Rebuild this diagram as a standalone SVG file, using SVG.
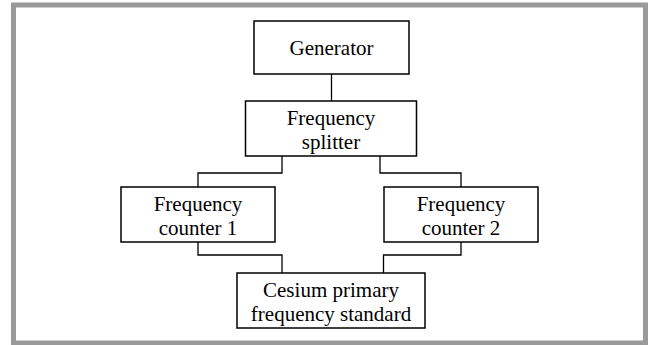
<svg xmlns="http://www.w3.org/2000/svg" width="648" height="345" viewBox="0 0 648 345">
<style>
.box{fill:#fff;stroke:#000;stroke-width:1.5}
.lbl{font-family:'Liberation Serif','Times New Roman',Times,'DejaVu Serif',serif;font-size:21px;fill:#000;text-anchor:middle}
.conn{fill:none;stroke:#000;stroke-width:1.3}
</style>
<rect x="0" y="0" width="648" height="345" fill="#fff"/>
<rect x="13.5" y="5" width="632" height="338" fill="none" stroke="#999" stroke-width="5"/>
<g id="connectors">
<path class="conn" d="M331.5 74 V101"/>
<path class="conn" d="M282 156 V173 H198 V187"/>
<path class="conn" d="M380 156 V173 H461 V187"/>
<path class="conn" d="M198 242 V255 H282 V273"/>
<path class="conn" d="M461 242 V255 H383.5 V273"/>
</g>
<g id="generator">
<rect class="box" x="254" y="21" width="155" height="53"/>
<text class="lbl" x="331.5" y="55">Generator</text>
</g>
<g id="splitter">
<rect class="box" x="245.5" y="101" width="171" height="55"/>
<text class="lbl" x="331" y="125">Frequency</text>
<text class="lbl" x="331" y="149">splitter</text>
</g>
<g id="counter1">
<rect class="box" x="121" y="187" width="154" height="55"/>
<text class="lbl" x="198" y="211">Frequency</text>
<text class="lbl" x="198" y="235">counter 1</text>
</g>
<g id="counter2">
<rect class="box" x="384" y="187" width="154" height="55"/>
<text class="lbl" x="461" y="211">Frequency</text>
<text class="lbl" x="461" y="235">counter 2</text>
</g>
<g id="cesium">
<rect class="box" x="237" y="273" width="188" height="55"/>
<text class="lbl" x="331" y="297">Cesium primary</text>
<text class="lbl" x="331" y="321">frequency standard</text>
</g>
</svg>
